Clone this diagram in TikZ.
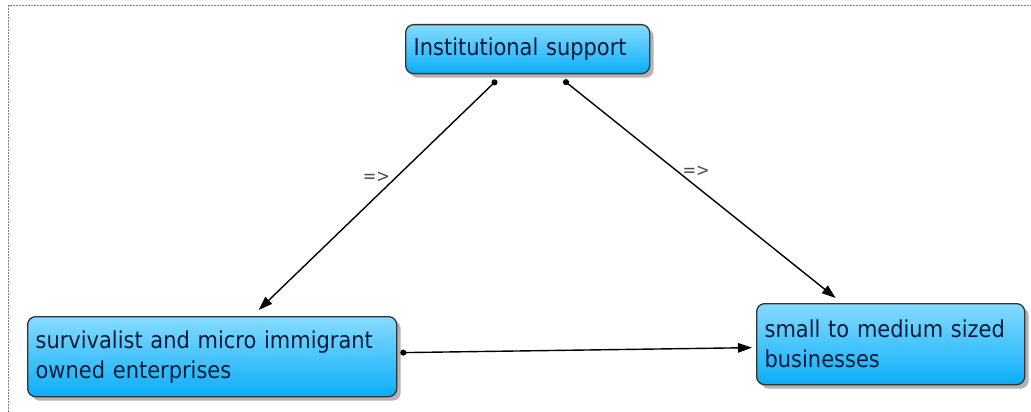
\documentclass[tikz,border=0pt]{standalone}
\usepackage{fontspec}
\setmainfont{DejaVu Sans Condensed}
\usetikzlibrary{arrows.meta, shadows}
\definecolor{boxTop}{HTML}{86DBFF}
\definecolor{boxBot}{HTML}{0AAEF8}
\definecolor{boxText}{HTML}{0B1A38}
\tikzset{
boxMe/.style={draw=black!80, line width=1.3pt, rounded corners=8pt,
    top color=boxTop, bottom color=boxBot, anchor=north west, align=left,
    inner xsep=8pt, inner ysep=0pt, text=boxText,
    font=\fontsize{23.3}{30}\selectfont,
    drop shadow={shadow xshift=4pt, shadow yshift=-4pt, opacity=.6}},
linkMe/.style={line width=1.4pt, draw=black,
    {Circle[length=6pt]}-{Triangle[length=14pt,width=9.5pt]}},
markMe/.style={text=black!70, font=\fontsize{18}{18}\selectfont, inner sep=2pt}
}

\begin{document}
\begin{tikzpicture}[x=1pt, y=-1pt]
    \useasboundingbox (0,0) rectangle (1031,412);
    \draw[gray, dash pattern=on 2pt off 1pt, line width=1pt] (8.5,412) -- (8.5,5.5) -- (1031,5.5);

    \node[boxMe, minimum width=244pt, minimum height=49pt, text width=228pt] (inst) at (405,24) {Institutional support};
    \node[boxMe, minimum width=369pt, minimum height=80pt, text width=353pt] (micro) at (27,316) {survivalist and micro immigrant\\owned enterprises};
    \node[boxMe, minimum width=268pt, minimum height=81pt, text width=252pt] (sme) at (756,303) {small to medium sized\\businesses};

    \draw[linkMe] ([xshift=-31pt,yshift=-6pt]inst.south) -- node[markMe, pos=.42, left=4pt] {=>} ([xshift=46.5pt,yshift=6pt]micro.north);
    \draw[linkMe] ([xshift=36pt,yshift=-6pt]inst.south) -- node[markMe, pos=.42, right=2pt] {=>} ([xshift=-55pt,yshift=5pt]sme.north);
    \draw[linkMe] ([xshift=3pt,yshift=4pt]micro.east) -- ([xshift=-4pt,yshift=-3.5pt]sme.west);
\end{tikzpicture}
\end{document}
